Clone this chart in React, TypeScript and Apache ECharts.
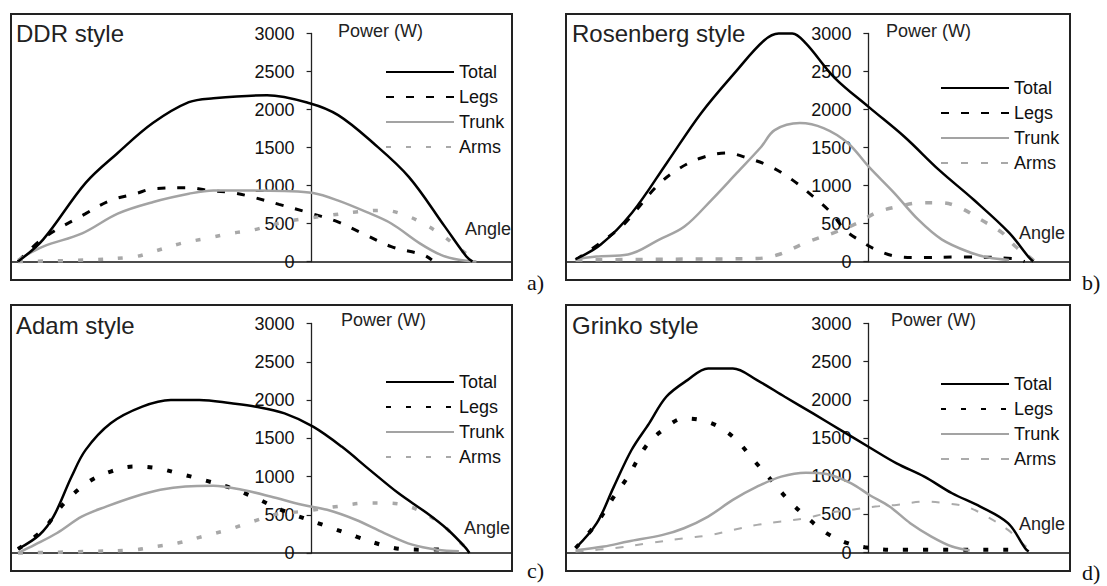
import React, { useEffect, useRef } from "react";
import * as echarts from "echarts";

// ---------- DATA ----------
const panelTitles = ["DDR style", "Rosenberg style", "Adam style", "Grinko style"];
const panelTags = ["a)", "b)", "c)", "d)"];
const seriesNames = ["Total", "Legs", "Trunk", "Arms"];
const yMin = 0;
const yMax = 3000;
const yInterval = 500;
const angleMin = -60;
const angleMax = 40;

// [angle, power W]
const ddrTotal = [[-58.6, 0], [-53.6, 288], [-45.1, 1035], [-38.7, 1428], [-31.7, 1821], [-24.5, 2096], [-19.6, 2148], [-8.9, 2188], [-0.4, 2083], [5.3, 1926], [12.3, 1559], [19.4, 1114], [26.6, 459], [30.9, 66], [32.1, 0]];
const ddrLegs = [[-58.6, 0], [-53.6, 304], [-45.1, 630], [-40.1, 804], [-35.2, 891], [-31.6, 957], [-24.5, 970], [-21.0, 940], [-15.3, 900], [-11.8, 848], [-6.5, 752], [-1.1, 652], [4.9, 530], [10.2, 370], [15.9, 196], [22.3, 87], [24.0, 20]];
const ddrTrunk = [[-58.6, 22], [-53.6, 196], [-45.8, 370], [-38.7, 630], [-31.6, 783], [-24.5, 891], [-19.6, 935], [-12.5, 935], [-5.4, 926], [0.3, 900], [5.2, 804], [10.9, 652], [15.9, 500], [21.6, 239], [25.8, 87], [29.4, 22], [32.9, 0]];
const ddrArms = [[-58.6, 0], [-45.0, 20], [-35.2, 65], [-31.6, 130], [-26.0, 239], [-21.0, 304], [-16.0, 370], [-11.8, 413], [-5.4, 522], [-1.1, 565], [3.8, 609], [8.8, 652], [14.5, 674], [18.7, 609], [22.3, 500], [26.5, 326], [29.4, 174], [32.2, 43], [33.3, 0]];

const rosTotal = [[-58.1, 30], [-53.1, 223], [-46.9, 642], [-40.0, 1297], [-33.2, 1952], [-26.1, 2515], [-20.7, 2908], [-17.8, 3000], [-15.1, 3000], [-12.4, 2869], [-6.8, 2424], [0.1, 2031], [7.2, 1638], [14.0, 1205], [20.9, 812], [27.9, 380], [31.7, 66], [32.7, 0]];
const rosLegs = [[-58.1, 20], [-53.1, 249], [-49.0, 459], [-46.3, 655], [-42.1, 983], [-38.0, 1205], [-33.2, 1362], [-28.2, 1428], [-24.0, 1362], [-19.3, 1245], [-15.1, 1074], [-10.9, 852], [-7.4, 642], [-4.7, 419], [-2.0, 288], [1.5, 157], [5.7, 66], [9.9, 52], [18.2, 60], [28.6, 40], [31.0, 0]];
const rosTrunk = [[-58.1, 30], [-54.0, 66], [-47.7, 92], [-41.5, 288], [-36.5, 459], [-31.1, 812], [-26.1, 1166], [-21.3, 1507], [-18.6, 1729], [-13.6, 1821], [-8.9, 1755], [-4.1, 1559], [0.1, 1245], [5.1, 904], [9.9, 550], [14.6, 288], [20.2, 118], [23.8, 52], [27.9, 20]];
const rosArms = [[-58.1, 20], [-40.0, 30], [-22.0, 40], [-17.8, 92], [-12.4, 249], [-6.8, 380], [-2.0, 511], [1.5, 642], [5.7, 720], [10.5, 773], [14.6, 773], [18.2, 707], [22.3, 550], [26.5, 380], [29.2, 197], [32.1, 52], [33.0, 0]];

const adamTotal = [[-58.6, 52], [-54.3, 239], [-51.5, 478], [-47.9, 1000], [-45.1, 1348], [-40.1, 1696], [-33.8, 1913], [-28.1, 2000], [-22.4, 2000], [-16.0, 1957], [-11.1, 1913], [-5.4, 1826], [0.3, 1652], [6.0, 1391], [11.6, 1087], [17.3, 783], [23.0, 522], [27.2, 304], [30.8, 65], [31.5, 0]];
const adamLegs = [[-58.6, 52], [-53.6, 304], [-49.4, 652], [-44.4, 935], [-40.1, 1065], [-35.5, 1130], [-30.9, 1109], [-26.7, 1043], [-21.7, 957], [-16.0, 848], [-11.1, 717], [-6.1, 565], [3.1, 348], [8.8, 217], [14.5, 96], [18.0, 52], [23.0, 43], [27.9, 52]];
const adamTrunk = [[-58.6, 0], [-55.2, 109], [-50.8, 261], [-45.8, 478], [-40.9, 609], [-35.2, 739], [-30.2, 826], [-25.2, 870], [-19.6, 878], [-13.9, 826], [-8.2, 739], [-1.9, 630], [3.1, 565], [8.8, 435], [14.5, 261], [20.1, 109], [25.1, 43], [29.4, 22]];
const adamArms = [[-58.6, 0], [-45.0, 20], [-35.2, 43], [-30.9, 87], [-26.7, 130], [-21.7, 217], [-16.7, 304], [-11.7, 413], [-6.7, 513], [-1.9, 543], [5.2, 609], [10.9, 652], [15.2, 652], [19.4, 609], [23.0, 500], [26.5, 348], [29.4, 152], [31.5, 43], [32.5, 0]];

const grinTotal = [[-58.1, 57], [-53.9, 384], [-50.5, 863], [-47.0, 1343], [-43.5, 1692], [-40.1, 2040], [-35.9, 2258], [-31.8, 2411], [-26.9, 2411], [-22.1, 2258], [-16.6, 2040], [-11.0, 1822], [-5.5, 1604], [0.0, 1386], [5.6, 1168], [11.1, 994], [16.6, 776], [22.2, 602], [27.7, 384], [31.1, 57], [31.8, 13]];
const grinLegs = [[-58.1, 57], [-53.9, 384], [-50.5, 733], [-47.7, 994], [-44.2, 1386], [-40.8, 1604], [-36.6, 1757], [-33.2, 1735], [-29.7, 1648], [-26.2, 1474], [-22.8, 1212], [-19.3, 950], [-15.9, 689], [-12.4, 471], [-8.3, 253], [-4.1, 122], [-0.7, 70], [4.9, 35], [28.4, 35]];
const grinTrunk = [[-58.1, 30], [-52.5, 78], [-47.7, 144], [-40.8, 231], [-36.6, 318], [-31.8, 471], [-26.9, 689], [-22.1, 863], [-17.3, 994], [-12.4, 1046], [-8.3, 1029], [-3.4, 907], [0.2, 754], [4.2, 602], [8.3, 384], [12.5, 209], [16.6, 78], [20.1, 26]];
const grinArms = [[-58.1, 13], [-50.5, 57], [-43.5, 122], [-36.6, 187], [-31.1, 231], [-26.9, 296], [-22.1, 362], [-17.3, 405], [-12.4, 449], [-8.3, 514], [-3.4, 558], [1.4, 602], [5.6, 623], [11.1, 667], [15.2, 645], [19.4, 602], [23.5, 471], [27.7, 296], [30.5, 122], [32.5, 13]];

const panelData = [
  [ddrTotal, ddrLegs, ddrTrunk, ddrArms],
  [rosTotal, rosLegs, rosTrunk, rosArms],
  [adamTotal, adamLegs, adamTrunk, adamArms],
  [grinTotal, grinLegs, grinTrunk, grinArms],
];

// ---------- LAYOUT / STYLE ----------
const FONT = "'Liberation Sans', Arial, sans-serif";
const SERIF = "'Liberation Serif', 'Times New Roman', serif";

const layout = [
  { box: [11, 14, 501, 266], grid: { left: 11, top: 33.5, width: 501, height: 228 }, title: [16, 33.5], power: [338, 30.5], angle: [465, 229], tag: [527, 282], legend: [385, 62] },
  { box: [566, 14, 504, 266], grid: { left: 566, top: 33.5, width: 504, height: 228 }, title: [572, 33.5], power: [886, 30.5], angle: [1019, 233], tag: [1082, 282], legend: [940, 78] },
  { box: [11, 305, 501, 266], grid: { left: 11, top: 323.5, width: 501, height: 229.5 }, title: [16, 325], power: [341, 320], angle: [464, 528], tag: [527, 570], legend: [385, 372] },
  { box: [566, 305, 504, 266], grid: { left: 566, top: 323.5, width: 504, height: 229 }, title: [572, 325], power: [891, 320], angle: [1019, 524], tag: [1082, 572], legend: [940, 374] },
];

const lineStyles = [
  [
    { color: "#000", width: 2.5, type: "solid" },
    { color: "#000", width: 3, type: [8, 12] },
    { color: "#a3a3a3", width: 2.5, type: "solid" },
    { color: "#a8a8a8", width: 3.5, type: [5, 15] },
  ],
  [
    { color: "#000", width: 2.5, type: "solid" },
    { color: "#000", width: 3, type: [8, 12] },
    { color: "#a3a3a3", width: 2.5, type: "solid" },
    { color: "#a8a8a8", width: 3.5, type: [7, 13] },
  ],
  [
    { color: "#000", width: 2.5, type: "solid" },
    { color: "#000", width: 4, type: [5, 15] },
    { color: "#a3a3a3", width: 2.5, type: "solid" },
    { color: "#a8a8a8", width: 3.5, type: [5, 15] },
  ],
  [
    { color: "#000", width: 2.5, type: "solid" },
    { color: "#000", width: 4, type: [5, 15] },
    { color: "#a3a3a3", width: 2.5, type: "solid" },
    { color: "#ababab", width: 2, type: [8, 12] },
  ],
];

export default function App() {
  const ref = useRef<HTMLDivElement>(null);

  useEffect(() => {
    if (!ref.current) return;
    const chart = echarts.init(ref.current, null, { renderer: "svg" });

    const grid: any[] = [];
    const xAxis: any[] = [];
    const yAxis: any[] = [];
    const series: any[] = [];
    const legend: any[] = [];
    const graphic: any[] = [];

    layout.forEach((L, p) => {
      grid.push({ ...L.grid, containLabel: false });
      // y-axis crosses the angle axis at angle 0
      const zeroOffset = ((0 - angleMin) / (angleMax - angleMin)) * L.grid.width;
      xAxis.push({
        gridIndex: p,
        type: "value",
        min: angleMin,
        max: angleMax,
        axisLabel: { show: false },
        axisTick: { show: false },
        splitLine: { show: false },
        axisLine: { show: true, onZero: false, lineStyle: { color: "#111", width: 1.6 } },
      });
      yAxis.push({
        gridIndex: p,
        type: "value",
        position: "left",
        offset: -zeroOffset,
        min: yMin,
        max: yMax,
        interval: yInterval,
        splitLine: { show: false },
        axisLine: { show: true, onZero: false, lineStyle: { color: "#222", width: 1.3 } },
        axisTick: { show: true, inside: false, length: 5, lineStyle: { color: "#222", width: 1.2 } },
        axisLabel: {
          show: true,
          margin: 17,
          color: "#111",
          fontSize: 18,
          fontFamily: FONT,
          formatter: (v: number) => String(v),
        },
      });
      const names: string[] = [];
      seriesNames.forEach((s, k) => {
        const nm = panelTags[p] + "|" + s;
        names.push(nm);
        const st = lineStyles[p][k];
        series.push({
          name: nm,
          type: "line",
          xAxisIndex: p,
          yAxisIndex: p,
          data: panelData[p][k],
          smooth: 0.35,
          symbol: "none",
          showSymbol: false,
          clip: false,
          z: k === 0 ? 4 : 3,
          lineStyle: { color: st.color, width: st.width, type: st.type },
          itemStyle: { color: st.color },
        });
      });
      legend.push({
        data: names,
        orient: "vertical",
        left: L.legend[0],
        top: L.legend[1],
        padding: 0,
        itemWidth: 68,
        itemHeight: 14,
        itemGap: 5,
        selectedMode: false,
        itemStyle: { opacity: 0 },
        formatter: (n: string) => n.split("|")[1],
        textStyle: { fontSize: 18, fontFamily: FONT, color: "#111", lineHeight: 20 },
      });

      graphic.push({
        type: "rect",
        shape: { x: L.box[0], y: L.box[1], width: L.box[2], height: L.box[3] },
        style: { fill: "none", stroke: "#222", lineWidth: 2 },
        z: 10,
      });
      graphic.push({
        type: "text",
        x: L.title[0],
        y: L.title[1],
        style: { text: panelTitles[p], font: `24px ${FONT}`, fill: "#222", verticalAlign: "middle" },
        z: 10,
      });
      graphic.push({
        type: "text",
        x: L.power[0],
        y: L.power[1],
        style: { text: "Power (W)", font: `18px ${FONT}`, fill: "#222", verticalAlign: "middle" },
        z: 10,
      });
      graphic.push({
        type: "text",
        x: L.angle[0],
        y: L.angle[1],
        style: { text: "Angle", font: `18px ${FONT}`, fill: "#222", verticalAlign: "middle" },
        z: 10,
      });
      graphic.push({
        type: "text",
        x: L.tag[0],
        y: L.tag[1],
        style: { text: panelTags[p], font: `22px ${SERIF}`, fill: "#111", verticalAlign: "middle" },
        z: 10,
      });
    });

    chart.setOption({
      animation: false,
      backgroundColor: "#fff",
      grid,
      xAxis,
      yAxis,
      series,
      legend,
      graphic,
    });

    return () => chart.dispose();
  }, []);

  return (
    <div
      ref={ref}
      style={{ position: "fixed", left: 0, top: 0, width: 1107, height: 586, background: "#fff" }}
    />
  );
}
